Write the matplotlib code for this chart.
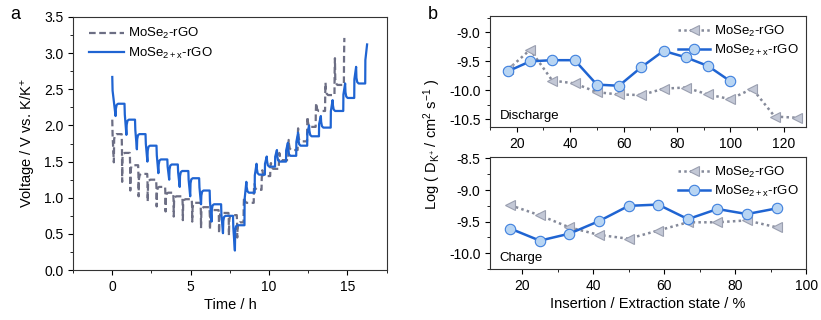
import matplotlib
matplotlib.use("Agg")
import matplotlib.pyplot as plt
import numpy as np
from matplotlib.ticker import MultipleLocator

plt.rcParams['font.family'] = ['Liberation Sans', 'DejaVu Sans']
plt.rcParams['mathtext.default'] = 'regular'
plt.rcParams['axes.linewidth'] = 0.8

# ---- panel a: GITT curves ----
# MoSe2+x-rGO, discharge: pulse-end time, rest voltage before pulse, voltage at pulse end
bx_dis_t = [0.21, 0.90, 1.57, 2.24, 2.94, 3.63, 4.30, 4.97, 5.66, 6.33, 7.06, 7.82]
bx_dis_rest = [2.67, 2.30, 2.08, 1.88, 1.72, 1.53, 1.46, 1.37, 1.27, 1.10, 0.91, 0.75]
bx_dis_end = [2.13, 1.87, 1.67, 1.50, 1.34, 1.25, 1.15, 1.02, 0.91, 0.67, 0.51, 0.27]
# MoSe2+x-rGO, charge
bx_chg_t = [8.55, 9.20, 9.85, 10.50, 11.20, 11.85, 12.55, 13.30, 14.05, 14.85, 15.55, 16.25]
bx_chg_rest = [0.62, 1.07, 1.32, 1.43, 1.50, 1.58, 1.72, 1.85, 1.97, 2.20, 2.38, 2.58]
bx_chg_end = [1.22, 1.47, 1.57, 1.66, 1.76, 1.90, 2.00, 2.13, 2.35, 2.58, 2.81, 3.12]

# MoSe2-rGO, discharge
g_dis_t = [0.10, 0.63, 1.15, 1.68, 2.26, 2.83, 3.40, 3.92, 4.50, 5.10, 5.66, 6.23, 6.81, 7.44, 7.97]
g_dis_rest = [2.08, 1.88, 1.62, 1.45, 1.33, 1.25, 1.15, 1.07, 1.02, 0.98, 0.93, 0.87, 0.83, 0.79, 0.76]
g_dis_end = [1.49, 1.22, 1.10, 1.02, 0.95, 0.88, 0.81, 0.74, 0.69, 0.67, 0.58, 0.56, 0.51, 0.48, 0.45]
# MoSe2-rGO, charge
g_chg_t = [8.40, 9.05, 9.55, 10.10, 10.65, 11.25, 11.85, 12.45, 13.00, 13.60, 14.20, 14.80]
g_chg_rest = [0.66, 0.93, 1.11, 1.30, 1.40, 1.52, 1.66, 1.78, 1.98, 2.20, 2.42, 2.56]
g_chg_end = [1.00, 1.18, 1.35, 1.47, 1.62, 1.80, 1.96, 2.12, 2.31, 2.59, 2.93, 3.21]

# ---- panel b: diffusion coefficients ----
state_dis_x = [16.7, 25, 33.3, 41.7, 50, 58.3, 66.7, 75, 83.3, 91.7, 100]
logD_dis_x = [-9.67, -9.50, -9.48, -9.48, -9.90, -9.92, -9.60, -9.32, -9.43, -9.58, -9.84]
state_dis = [16.7, 25, 33.3, 41.7, 50, 58.3, 66.7, 75, 83.3, 91.7, 100, 108.3, 116.7, 125]
logD_dis = [-9.64, -9.30, -9.83, -9.88, -10.03, -10.07, -10.08, -9.97, -9.95, -10.07,
            -10.15, -9.97, -10.45, -10.47]
state_chg = [16.7, 25, 33.3, 41.7, 50, 58.3, 66.7, 75, 83.3, 91.7]
logD_chg_x = [-9.61, -9.80, -9.69, -9.49, -9.25, -9.23, -9.46, -9.30, -9.38, -9.29]
logD_chg = [-9.24, -9.40, -9.59, -9.71, -9.77, -9.64, -9.51, -9.51, -9.48, -9.59]

lab_g = 'MoSe$_2$-rGO'
lab_x = 'MoSe$_{2+x}$-rGO'
blue = '#1f64d2'
grey = '#6c6e84'


def gitt_path(d_t, d_rest, d_end, c_t, c_rest, c_end, width):
    # join the pulses into one polyline: rest -> pulse end -> relaxed level
    rest_next = list(d_rest[1:]) + [c_rest[0]]
    tt, vv = [], []
    for i in range(len(d_t)):
        start = 0.0 if i == 0 else d_t[i] - width
        tt += [start, start + 0.02, d_t[i], d_t[i] + 0.02, d_t[i] + 0.07, d_t[i] + 0.16]
        vv += [d_rest[i], d_rest[i] - 0.35 * (d_rest[i] - d_end[i]), d_end[i],
               rest_next[i] - 0.07, rest_next[i] - 0.015, rest_next[i]]
    rest_next = list(c_rest[1:]) + [None]
    for i in range(len(c_t)):
        tt += [c_t[i] - width, c_t[i] - width + 0.01, c_t[i]]
        vv += [c_rest[i], c_rest[i] + 0.6 * (c_end[i] - c_rest[i]), c_end[i]]
        if rest_next[i] is not None:
            tt += [c_t[i] + 0.02, c_t[i] + 0.07, c_t[i] + 0.16]
            vv += [rest_next[i] + 0.08, rest_next[i] + 0.02, rest_next[i]]
    return tt, vv


fig = plt.figure(figsize=(8.21, 3.2), dpi=100)

ax = fig.add_axes([0.089, 0.156, 0.382, 0.791])
gt, gv = gitt_path(g_dis_t, g_dis_rest, g_dis_end, g_chg_t, g_chg_rest, g_chg_end, 0.03)
bt, bv = gitt_path(bx_dis_t, bx_dis_rest, bx_dis_end, bx_chg_t, bx_chg_rest, bx_chg_end, 0.12)
ax.plot(gt, gv, ls=(0, (3, 1.6)), color=grey, lw=1.6, label=lab_g)
ax.plot(bt, bv, color=blue, lw=1.6, label=lab_x)
ax.set_xlim(-2.5, 17.5)
ax.set_ylim(0, 3.5)
ax.xaxis.set_major_locator(MultipleLocator(5))
ax.xaxis.set_minor_locator(MultipleLocator(2.5))
ax.yaxis.set_major_locator(MultipleLocator(0.5))
ax.yaxis.set_minor_locator(MultipleLocator(0.25))
ax.set_yticklabels([f'{v:.1f}' for v in ax.get_yticks()])
ax.set_xlabel('Time / h', fontsize=10.5, labelpad=3)
ax.set_ylabel('Voltage / V vs. K/K$^{+}$', fontsize=10.5, labelpad=4)
ax.legend(loc='upper left', frameon=False, fontsize=9.5, handlelength=2.7,
          handletextpad=0.3, borderaxespad=0.3, labelspacing=0.35,
          bbox_to_anchor=(0.02, 1.0))
fig.text(0.013, 0.955, 'a', fontsize=13, va='center')

axt = fig.add_axes([0.597, 0.603, 0.385, 0.347])
axb = fig.add_axes([0.597, 0.159, 0.385, 0.35])

mk_g = dict(marker='<', ms=7, mfc='#c3c8d6', mec='#9a9fb0', mew=0.8,
            ls=(0, (1, 1.3)), lw=1.8, color='#858a9a')
mk_x = dict(marker='o', ms=7.5, mfc='#b8d5f3', mec='#3f80de', mew=0.8,
            ls='-', lw=1.8, color=blue)

axt.plot(state_dis, logD_dis, label=lab_g, **mk_g)
axt.plot(state_dis_x, logD_dis_x, label=lab_x, **mk_x)
axt.set_xlim(10, 128.5)
axt.set_ylim(-10.63, -8.72)
axt.xaxis.set_major_locator(MultipleLocator(20))
axt.xaxis.set_minor_locator(MultipleLocator(10))
axt.yaxis.set_major_locator(MultipleLocator(0.5))
axt.yaxis.set_minor_locator(MultipleLocator(0.25))
axt.text(0.03, 0.07, 'Discharge', transform=axt.transAxes, fontsize=9.5)

axb.plot(state_chg, logD_chg, label=lab_g, **mk_g)
axb.plot(state_chg, logD_chg_x, label=lab_x, **mk_x)
axb.set_xlim(11, 100)
axb.set_ylim(-10.25, -8.48)
axb.xaxis.set_major_locator(MultipleLocator(20))
axb.xaxis.set_minor_locator(MultipleLocator(10))
axb.yaxis.set_major_locator(MultipleLocator(0.5))
axb.yaxis.set_minor_locator(MultipleLocator(0.25))
axb.text(0.03, 0.07, 'Charge', transform=axb.transAxes, fontsize=9.5)
axb.set_xlabel('Insertion / Extraction state / %', fontsize=10.5, labelpad=3)

for a in (axt, axb):
    a.set_yticklabels([f'{v:.1f}' for v in a.get_yticks()])
    a.legend(loc='upper right', frameon=False, fontsize=9.5, handlelength=2.4,
             handletextpad=0.3, borderaxespad=0.2, labelspacing=0.3)

for a in (ax, axt, axb):
    a.tick_params(which='both', direction='out', top=False, right=False, labelsize=10)
    a.tick_params(which='major', length=3.5, width=0.8)
    a.tick_params(which='minor', length=2, width=0.6)
    for s in a.spines.values():
        s.set_color('#333333')

fig.text(0.527, 0.55, 'Log ( D$_{K^{+}}$ / cm$^{2}$ s$^{-1}$ )', rotation=90,
         fontsize=10.5, ha='center', va='center')
fig.text(0.521, 0.955, 'b', fontsize=13, va='center')

fig.savefig('out.png', dpi=100)
